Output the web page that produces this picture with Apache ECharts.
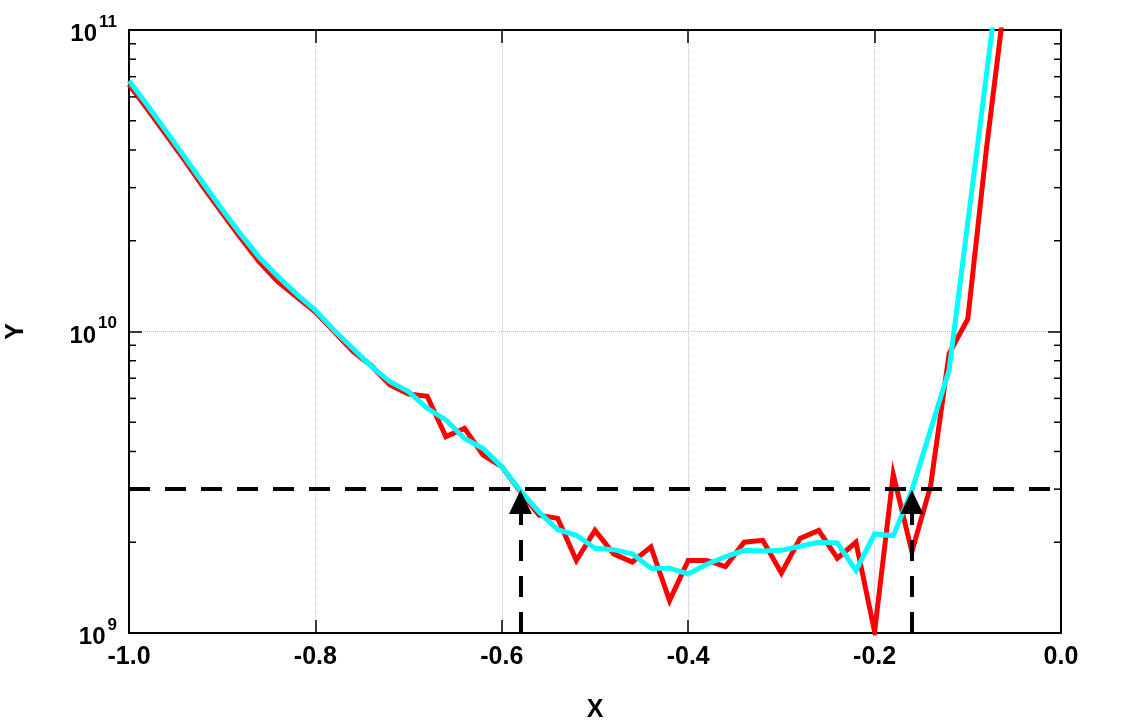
<!DOCTYPE html>
<html>
<head>
<meta charset="utf-8">
<script src="https://cdn.jsdelivr.net/npm/echarts@6/dist/echarts.min.js"></script>
<style>
  html, body { margin: 0; padding: 0; background: #fff; }
  #chart { width: 1122px; height: 720px; }
</style>
</head>
<body>
<div id="chart"></div>
<script>
// ---- data ----
const xValues = [-1.00, -0.98, -0.96, -0.94, -0.92, -0.90, -0.88, -0.86, -0.84, -0.82,
                 -0.80, -0.78, -0.76, -0.74, -0.72, -0.70, -0.68, -0.66, -0.64, -0.62,
                 -0.60, -0.58, -0.56, -0.54, -0.52, -0.50, -0.48, -0.46, -0.44, -0.42,
                 -0.40, -0.38, -0.36, -0.34, -0.32, -0.30, -0.28, -0.26, -0.24, -0.22,
                 -0.20, -0.18, -0.16, -0.14, -0.12, -0.10, -0.08, -0.06];
const redValues = [6.6e10, 5.45e10, 4.48e10, 3.68e10, 3.0e10, 2.47e10, 2.04e10, 1.70e10, 1.46e10, 1.30e10,
                   1.16e10, 1.0e10, 8.6e9, 7.7e9, 6.65e9, 6.2e9, 6.1e9, 4.48e9, 4.77e9, 3.89e9,
                   3.56e9, 2.94e9, 2.46e9, 2.40e9, 1.74e9, 2.19e9, 1.83e9, 1.72e9, 1.93e9, 1.28e9,
                   1.74e9, 1.74e9, 1.66e9, 2.0e9, 2.03e9, 1.58e9, 2.06e9, 2.19e9, 1.77e9, 2.0e9,
                   1.01e9, 3.36e9, 1.86e9, 3.07e9, 8.45e9, 1.10e10, 4.04e10, 1.28e11];
const cyanValues = [6.79e10, 5.62e10, 4.61e10, 3.78e10, 3.09e10, 2.54e10, 2.10e10, 1.76e10, 1.52e10, 1.33e10,
                    1.175e10, 1.01e10, 8.8e9, 7.66e9, 6.82e9, 6.32e9, 5.56e9, 5.09e9, 4.42e9, 4.09e9,
                    3.56e9, 2.96e9, 2.52e9, 2.20e9, 2.11e9, 1.91e9, 1.89e9, 1.83e9, 1.64e9, 1.64e9,
                    1.57e9, 1.69e9, 1.79e9, 1.88e9, 1.87e9, 1.88e9, 1.94e9, 2.0e9, 1.99e9, 1.61e9,
                    2.13e9, 2.1e9, 2.97e9, 4.71e9, 7.47e9, 2.3e10, 7.1e10, 2.2e11];
const threshold = 3e9;
const crossX = [-0.58, -0.16];
const arrowEnd = 2.72e9;
const xTicks = [-1.0, -0.8, -0.6, -0.4, -0.2, 0.0];
const yMajorTicks = [1e9, 1e10, 1e11];
const yMinorTicks = [2e9, 3e9, 4e9, 5e9, 6e9, 7e9, 8e9, 9e9, 2e10, 3e10, 4e10, 5e10, 6e10, 7e10, 8e10, 9e10];

// ---- chart ----
const FONT = '"Liberation Sans", Arial, sans-serif';
const chart = echarts.init(document.getElementById('chart'), null, { renderer: 'canvas' });
const pair = (ys) => xValues.map((x, i) => [x, ys[i]]);
const xMin = xTicks[0], xMax = xTicks[xTicks.length - 1];
const yMin = yMajorTicks[0], yMax = yMajorTicks[yMajorTicks.length - 1];

const black = '#000';
const gridColor = '#c4c4f0';
const MINOR_LEN = 7;

const option = {
  animation: false,
  backgroundColor: '#fff',
  grid: { left: 129, right: 61, top: 30, bottom: 87, containLabel: false, outerBoundsMode: 'none' },
  xAxis: [
    {
      type: 'value', position: 'bottom', min: xMin, max: xMax, interval: 0.2,
      name: 'X', nameLocation: 'middle', nameGap: 65,
      nameTextStyle: { fontFamily: FONT, fontWeight: 'bold', fontSize: 25, color: black },
      axisLine: { show: true, onZero: false, lineStyle: { color: black, width: 2 } },
      axisTick: { show: true, inside: true, length: 13, lineStyle: { color: black, width: 1.5 } },
      axisLabel: {
        margin: 12, fontFamily: FONT, fontWeight: 'bold', fontSize: 25, color: black,
        formatter: v => (Math.abs(v) < 1e-9 ? 0 : v).toFixed(1)
      },
      splitLine: { show: true, lineStyle: { color: gridColor, type: 'dotted', width: 1 } }
    },
    {
      type: 'value', position: 'top', min: xMin, max: xMax, interval: 0.2,
      axisLine: { show: true, onZero: false, lineStyle: { color: black, width: 2 } },
      axisTick: { show: true, inside: true, length: 13, lineStyle: { color: black, width: 1.5 } },
      axisLabel: { show: false }, splitLine: { show: false }
    }
  ],
  yAxis: [
    {
      type: 'log', logBase: 10, position: 'left', min: yMin, max: yMax,
      name: 'Y', nameLocation: 'middle', nameGap: 100,
      nameTextStyle: { fontFamily: FONT, fontWeight: 'bold', fontSize: 25, color: black },
      axisLine: { show: true, onZero: false, lineStyle: { color: black, width: 2 } },
      axisTick: { show: true, inside: true, length: 13, lineStyle: { color: black, width: 1.5 } },
      axisLabel: {
        margin: 12, color: black,
        formatter: v => '{b|10}{s|' + Math.round(Math.log10(v)) + '}',
        rich: {
          b: { fontFamily: FONT, fontWeight: 'bold', fontSize: 24, color: black, verticalAlign: 'bottom' },
          s: { fontFamily: FONT, fontWeight: 'bold', fontSize: 17, color: black, verticalAlign: 'top', padding: [0, 0, 16, 2] }
        }
      },
      splitLine: { show: true, lineStyle: { color: gridColor, type: 'dotted', width: 1 } }
    },
    {
      type: 'log', logBase: 10, position: 'right', min: yMin, max: yMax,
      axisLine: { show: true, onZero: false, lineStyle: { color: black, width: 2 } },
      axisTick: { show: true, inside: true, length: 13, lineStyle: { color: black, width: 1.5 } },
      axisLabel: { show: false }, splitLine: { show: false }
    }
  ],
  series: [
    {
      name: 'minorTicks', type: 'custom', xAxisIndex: 0, yAxisIndex: 0, silent: true, clip: false, z: 10,
      data: yMinorTicks.map(v => [xMin, v]),
      encode: { x: 0, y: 1 },
      renderItem: (params, api) => {
        const v = api.value(1);
        const pl = api.coord([xMin, v]);
        const pr = api.coord([xMax, v]);
        const st = { stroke: black, lineWidth: 1.5 };
        return {
          type: 'group',
          children: [
            { type: 'line', shape: { x1: pl[0], y1: pl[1], x2: pl[0] + MINOR_LEN, y2: pl[1] }, style: st },
            { type: 'line', shape: { x1: pr[0] - MINOR_LEN, y1: pr[1], x2: pr[0], y2: pr[1] }, style: st }
          ]
        };
      }
    },
    {
      name: 'red', type: 'line', xAxisIndex: 0, yAxisIndex: 0, data: pair(redValues),
      showSymbol: false, symbol: 'none', clip: true, z: 3,
      lineStyle: { color: '#ff0000', width: 5, join: 'miter' }
    },
    {
      name: 'cyan', type: 'line', xAxisIndex: 0, yAxisIndex: 0, data: pair(cyanValues),
      showSymbol: false, symbol: 'none', clip: true, z: 4,
      lineStyle: { color: '#00ffff', width: 5, join: 'miter' }
    },
    {
      name: 'threshold', type: 'line', xAxisIndex: 0, yAxisIndex: 0, data: [], z: 5, silent: true,
      markLine: {
        silent: true, animation: false,
        label: { show: false },
        emphasis: { disabled: true },
        lineStyle: { color: black, width: 4, type: [21, 15] },
        data: [
          [ { coord: [xMin, threshold], symbol: 'none' },
            { coord: [xMax, threshold], symbol: 'none' } ],
          ...crossX.map(cx => [
            { coord: [cx, yMin], symbol: 'none' },
            { coord: [cx, arrowEnd], symbol: 'triangle', symbolSize: [23, 24] }
          ])
        ]
      }
    }
  ]
};
chart.setOption(option);
</script>
</body>
</html>
